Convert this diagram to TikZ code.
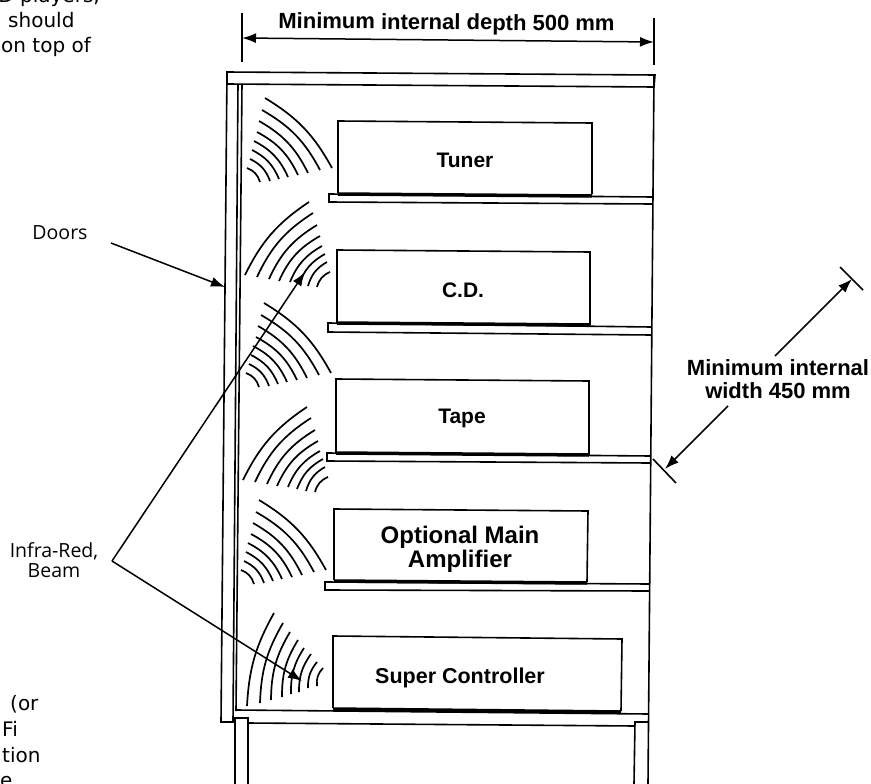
\documentclass[tikz,border=0pt]{standalone}
\usepackage{fontspec}
\setmainfont{Liberation Sans}
\newfontfamily\notefont{Open Sans}
\newfontfamily\cortefont{DejaVu Sans}
\usetikzlibrary{arrows.meta}
\tikzset{
    panel/.style={draw,line width=1.6pt},
    flecha/.style={draw,line width=1.5pt,-{Latex[length=14pt,width=10pt]}},
    flechas/.style={draw,line width=1.5pt,{Latex[length=14pt,width=10pt]}-{Latex[length=14pt,width=10pt]}},
    reposa/.style={draw,line width=3.5pt},
    onda/.style={draw,line width=1.7pt},
    aparato/.style={anchor=base,align=center,font=\bfseries\fontsize{21}{22}\selectfont},
    medida/.style={align=center,font=\bfseries\fontsize{22}{23}\selectfont},
    nota/.style={align=center,font=\notefont\fontsize{19.5}{20.5}\selectfont},
    corte/.style={inner sep=0pt,font=\cortefont\fontsize{20}{24}\selectfont},
}
\begin{document}
\begin{tikzpicture}[x=1pt,y=-1pt]
    \clip (0,0) rectangle (871,784);
    % cabinet
    \path [panel] (227,84) -- (227,72) -- (655,75) -- (654,87) -- (227,84);
    \path [panel] (654,76) -- (648,784);
    \path [panel] (227,72) -- (221,722) -- (234,722);
    \path [panel] (238,84) -- (233,722);
    \path [panel] (242,84) -- (236,711);
    \path [panel] (236,710) -- (648,714);
    \path [panel] (248,723) -- (635,726);
    \path [panel] (235,784) -- (235,718) -- (248,718) -- (248,784);
    \path [panel] (634,784) -- (635,722) -- (648,722);
    % shelves and boxes
    \path [panel] (338,193) -- (338,121) -- (592,123) -- (592,194);
    \path [panel] (652,197) -- (329,194) -- (329,202) -- (652,204);
    \path [reposa] (338,194) -- (592,196);
    \path [panel] (337,323) -- (337,250) -- (590,252) -- (590,325);
    \path [panel] (651,327) -- (328,323) -- (328,332) -- (651,335);
    \path [reposa] (337,323) -- (590,325);
    \path [panel] (336,453) -- (336,379) -- (589,381) -- (589,455);
    \path [panel] (650,456) -- (327,453) -- (327,461) -- (650,463);
    \path [reposa] (336,453) -- (589,455);
    \path [panel] (334,580) -- (334,509) -- (588,511) -- (587,582);
    \path [panel] (649,584) -- (325,582) -- (325,590) -- (649,591);
    \path [reposa] (334,581) -- (587,583);
    \path [panel] (333,708) -- (333,636) -- (622,639) -- (621,711);
    \path [reposa] (333,709) -- (621,712);
    % waves
    \foreach \dx/\dy in {0/0,-1/205,-6/402} {
        \foreach \ax/\ay/\bx/\by/\b in {265/98/332/168/15,262/110/320/170/16,259/121/308/173/17,257/132/298/175/18,254/141/288/177/19,252/150/279/179/20,250/159/270/181/22,247/168/260/182/26} {
            \path [onda] (\ax+\dx,\ay+\dy) to [bend left=\b] (\bx+\dx,\by+\dy);
        }
    }
    \foreach \dx/\dy in {0/0,-2/205} {
        \foreach \ax/\ay/\bx/\by/\b in {245/275/309/202/15,257/277/313/213/16,269/279/317/225/17,279/281/320/236/18,290/282/322/246/19,299/284/325/254/20,308/286/327/262/22,317/287/330/272/26} {
            \path [onda] (\ax+\dx,\ay+\dy) to [bend left=\b] (\bx+\dx,\by+\dy);
        }
    }
    \foreach \ax/\ay/\bx/\by/\b in {274/613/247/706/13,283/623/260/703/14,290/632/271/700/15,298/640/282/697/16,304/648/291/694/17,311/654/299/692/18,317/662/308/688/20,323/668/317/686/25} {
        \path [onda] (\ax,\ay) to [bend right=\b] (\bx,\by);
    }
    % texts
    \node [aparato] (tuner) at (465,167) {Tuner};
    \node [aparato] (cd) at (463,297) {C.D.};
    \node [aparato] (tape) at (462,423) {Tape};
    \node [aparato,font=\bfseries\fontsize{24}{22}\selectfont] (amp) at (460,567) {Optional Main\\Amplifier};
    \node [aparato,font=\bfseries\fontsize{21.5}{22}\selectfont] (super) at (460,683) {Super Controller};
    \node [medida,rotate=-0.5] (depth) at (446.5,24) {Minimum internal depth 500 mm};
    \node [medida] (width) at (778,379) {Minimum internal\\width 450 mm};
    \node [nota] (doors) at (60,233) {Doors};
    \node [nota] (beam) at (54,560) {Infra-Red,\\Beam};
    \node [corte,anchor=base east] (top1) at (100,3) {D players,};
    \node [corte,anchor=base west] (top2) at (8,28) {should};
    \node [corte,anchor=base west] (top3) at (1,53) {on top of};
    \node [corte,anchor=base west] (low1) at (10,710) {(or};
    \node [corte,anchor=base west] (low2) at (2,736) {Fi};
    \node [corte,anchor=base west] (low3) at (2,762) {tion};
    \node [corte,anchor=base west] (low4) at (0,787) {e};
    % dimension lines
    \coordinate (leftup) at (242,13);
    \coordinate (leftdown) at (242,62);
    \coordinate (rightup) at (654,18);
    \coordinate (rightdown) at (654,65);
    \path [panel] (leftup) -- (leftdown);
    \path [panel] (rightup) -- (rightdown);
    \path [flechas] (242,38) -- (654,42);
    \coordinate (wtop1) at (840,267);
    \coordinate (wtop2) at (863,290);
    \coordinate (wlow1) at (653,459);
    \coordinate (wlow2) at (676,483);
    \path [panel] (wtop1) -- (wtop2);
    \path [panel] (wlow1) -- (wlow2);
    \coordinate (wtoptip) at (852,279);
    \coordinate (wlowtip) at (665,469);
    \path [flecha] (775,356) -- (wtoptip);
    \path [flecha] (728,406) -- (wlowtip);
    % leaders
    \coordinate (doorstart) at (111,243);
    \coordinate (doortip) at (225,287);
    \coordinate (beamfork) at (112,561);
    \coordinate (beamtip1) at (305,272);
    \coordinate (beamtip2) at (302,681);
    \path [flecha] (doorstart) -- (doortip);
    \path [flecha] (beamfork) -- (beamtip1);
    \path [flecha] (beamfork) -- (beamtip2);
\end{tikzpicture}
\end{document}
